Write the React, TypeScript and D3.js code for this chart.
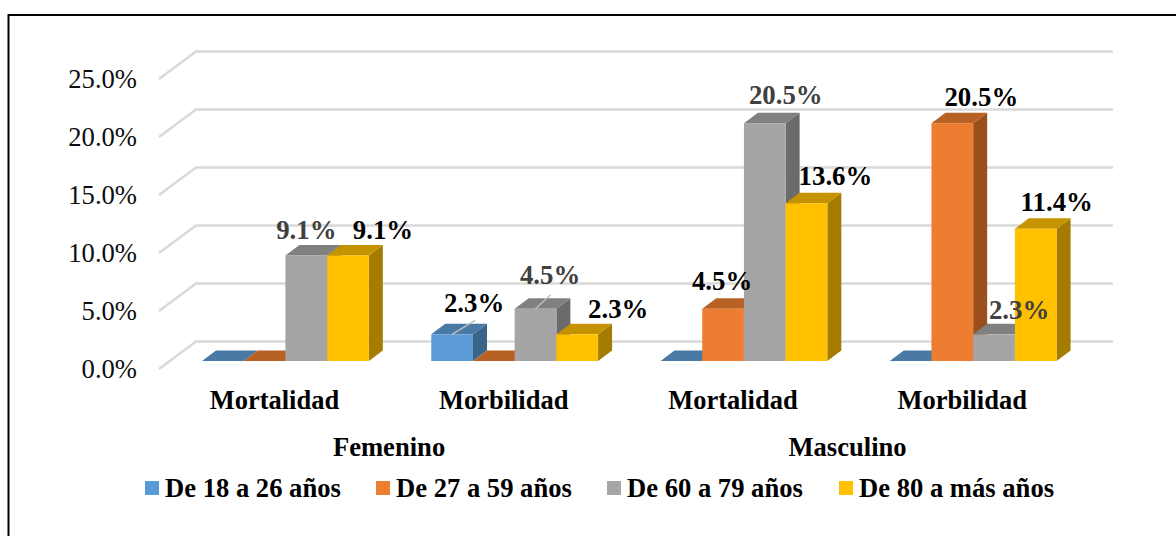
import React from "react";
import * as d3 from "d3";

const genders = ["Femenino", "Masculino"];
const groupKeys = ["F-Mortalidad", "F-Morbilidad", "M-Mortalidad", "M-Morbilidad"];
const groupLabels = ["Mortalidad", "Morbilidad", "Mortalidad", "Morbilidad"];
const seriesNames = ["De 18 a 26 años", "De 27 a 59 años", "De 60 a 79 años", "De 80 a más años"];
const age18 = [0, 2.3, 0, 0];
const age27 = [0, 0, 4.5, 20.5];
const age60 = [9.1, 4.5, 20.5, 2.3];
const age80 = [9.1, 2.3, 13.6, 11.4];
const seriesValues = [age18, age27, age60, age80];
const yTicks = [0, 5, 10, 15, 20, 25];

const seriesFront = ["#5B9BD5", "#ED7D31", "#A5A5A5", "#FFC000"];
const seriesTop = ["#4A79A5", "#B86125", "#808080", "#C59200"];
const seriesSide = ["#3B6489", "#9A4F1C", "#6B6B6B", "#A57C00"];
const labelColors = ["#000000", "#000000", "#404040", "#000000"];
// label offsets from the bar's front-top-centre [dx, dy of baseline], keyed series-group
const labelOffsets: Record<string, [number, number]> = {
  "2-0": [0, -16], "3-0": [35, -16],
  "0-1": [22, -22], "2-1": [14.5, -25], "3-1": [41, -16],
  "1-2": [-1, -19], "2-2": [21, -19], "3-2": [29, -18],
  "1-3": [29, -17], "2-3": [25, -15], "3-3": [21, -18],
};
const leaderTips: Record<string, [number, number]> = { "0-1": [23, -14], "2-1": [15, -14] };

const FONT = "'Liberation Serif', 'Times New Roman', serif";
const DEPTH = { x: 14, y: -10.5 };
const WALL = { x: 37, y: -27.5, dy: 8 };

export default function App() {
  const x0 = d3.scaleBand<string>().domain(groupKeys).range([170.8, 1087.8]);
  const barW = 41.7;
  const x1 = d3.scaleBand<string>().domain(seriesNames).range([0, barW * 4]);
  const y = d3.scaleLinear().domain([0, 25]).range([361, 71]);
  const barX = (g: number, s: number) =>
    x0(groupKeys[g])! + (x0.bandwidth() - barW * 4) / 2 + x1(seriesNames[s])!;
  const wallL = 159;
  const wallR = 1076;

  const bars: React.ReactNode[] = [];
  const labels: React.ReactNode[] = [];
  groupKeys.forEach((_, g) => {
    seriesNames.forEach((__, s) => {
      const v = seriesValues[s][g];
      const x = barX(g, s);
      const yt = y(v);
      const yb = y(0);
      const w = x1.bandwidth();
      bars.push(
        <g key={`b${g}-${s}`}>
          <polygon
            points={`${x + w},${yt} ${x + w + DEPTH.x},${yt + DEPTH.y} ${x + w + DEPTH.x},${yb + DEPTH.y} ${x + w},${yb}`}
            fill={seriesSide[s]}
          />
          <polygon
            points={`${x},${yt} ${x + DEPTH.x},${yt + DEPTH.y} ${x + w + DEPTH.x},${yt + DEPTH.y} ${x + w},${yt}`}
            fill={seriesTop[s]}
          />
          {v > 0 && <rect x={x} y={yt} width={w} height={yb - yt} fill={seriesFront[s]} />}
        </g>
      );
      const key = `${s}-${g}`;
      const off = labelOffsets[key];
      if (v > 0 && off) {
        labels.push(
          <text
            key={`l${key}`}
            x={x + w / 2 + off[0]}
            y={yt + off[1]}
            textAnchor="middle"
            fontFamily={FONT}
            fontWeight="bold"
            fontSize={26.8}
            fill={labelColors[s]}
          >
            {v.toFixed(1)}%
          </text>
        );
        const tip = leaderTips[key];
        if (tip) {
          labels.unshift(
            <line
              key={`ll${key}`}
              x1={x + w / 2}
              y1={yt}
              x2={x + w / 2 + tip[0]}
              y2={yt + tip[1]}
              stroke="#BFBFBF"
              strokeWidth={1.5}
            />
          );
        }
      }
    });
  });

  const legendX = [145, 376, 607, 839];

  return (
    <svg
      width={1176}
      height={536}
      style={{ position: "absolute", left: 0, top: 0, background: "#fff" }}
    >
      <polyline points="8.5,536 8.5,15 1176,15" fill="none" stroke="#000" strokeWidth={2} />
      {yTicks.map((t) => {
        const yf = y(t) + WALL.dy;
        return (
          <g key={t}>
            <polyline
              points={`${wallL},${yf} ${wallL + WALL.x},${yf + WALL.y} ${wallR + WALL.x},${yf + WALL.y}`}
              fill="none"
              stroke="#D9D9D9"
              strokeWidth={2.4}
            />
            <text
              x={137}
              y={yf + 8.5}
              textAnchor="end"
              fontFamily={FONT}
              fontSize={26.6}
              fill="#0d0d0d"
            >
              {t.toFixed(1)}%
            </text>
          </g>
        );
      })}
      {bars}
      {labels}
      {groupLabels.map((g, i) => (
        <text
          key={i}
          x={x0(groupKeys[i])! + x0.bandwidth() / 2 - 11}
          y={409}
          textAnchor="middle"
          fontFamily={FONT}
          fontWeight="bold"
          fontSize={26.5}
          fill="#000"
        >
          {g}
        </text>
      ))}
      {genders.map((g, i) => {
        const a = x0(groupKeys[i * 2])!;
        const b = x0(groupKeys[i * 2 + 1])! + x0.bandwidth();
        return (
          <text
            key={g}
            x={(a + b) / 2 - 11}
            y={456}
            textAnchor="middle"
            fontFamily={FONT}
            fontWeight="bold"
            fontSize={26.6}
            fill="#000"
          >
            {g}
          </text>
        );
      })}
      {seriesNames.map((n, i) => (
        <g key={n}>
          <rect x={legendX[i]} y={481} width={14} height={14} fill={seriesFront[i]} />
          <text
            x={legendX[i] + 20}
            y={497}
            fontFamily={FONT}
            fontWeight="bold"
            fontSize={26.6}
            fill="#000"
          >
            {n}
          </text>
        </g>
      ))}
    </svg>
  );
}
